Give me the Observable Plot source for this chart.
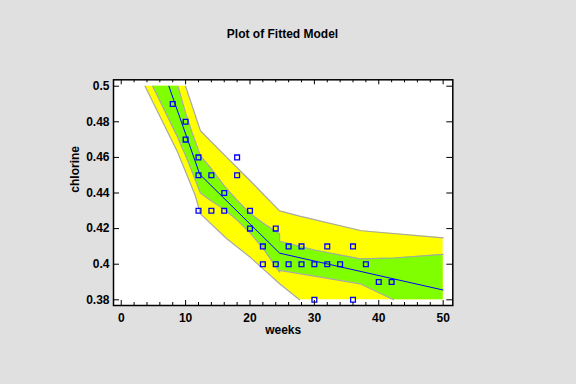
<!DOCTYPE html>
<html><head><meta charset="utf-8">
<script src="https://cdn.jsdelivr.net/npm/d3@7"></script>
<script src="https://cdn.jsdelivr.net/npm/@observablehq/plot@0.6"></script>
<style>
html,body{margin:0;padding:0;background:#e0e0e0;width:576px;height:384px;overflow:hidden;font-family:Arial,"Liberation Sans",sans-serif}
#title{position:absolute;left:113px;width:339px;top:27px;text-align:center;font-weight:bold;font-size:12px;color:#000}
#chart{position:absolute;left:0;top:50px}
</style></head><body>
<div id="title">Plot of Fitted Model</div>
<div id="chart"></div>
<script>
// observations
const weeks    = [8,10,10,12,12,12,14,14,16,16,18,18,20,20,22,22,24,24,26,26,28,28,30,30,32,32,34,36,36,38,40,42];
const chlorine = [.49,.48,.47,.46,.45,.43,.45,.43,.44,.43,.46,.45,.42,.43,.41,.40,.42,.40,.41,.40,.41,.40,.40,.38,.41,.40,.40,.41,.38,.40,.39,.39];
// fitted line
const fitX = [7.4, 12.2, 24.6, 50];
const fitY = [0.5, 0.4505, 0.4062, 0.3855];
// prediction limits (yellow)
const predX  = [3.7, 8.65, 10.0, 11.5, 12.3, 16.4, 20, 22, 24.6, 27.7, 37.3, 50];
const predLo = [0.5, 0.4638, 0.452, 0.4386, 0.4283, 0.4143, 0.404, 0.3975, 0.389, 0.38, 0.38, 0.38];
const predHi = [0.5, 0.5, 0.5, 0.4837, 0.475, 0.460, 0.447, 0.4396, 0.430, 0.427, 0.4188, 0.4148];
// confidence limits (green)
const confX  = [4.9, 8, 8.8, 10, 11, 12.3, 14, 16, 18, 20, 22, 24.6, 24.6, 30, 37.1, 42.3, 50];
const confLo = [0.5, 0.477, 0.471, 0.461, 0.452, 0.440, 0.4355, 0.4309, 0.4248, 0.4177, 0.4091, 0.3955, 0.3965, 0.3933, 0.389, 0.38, 0.38];
const confHi = [0.5, 0.5, 0.5, 0.485, 0.474, 0.461, 0.4535, 0.444, 0.4358, 0.4287, 0.4231, 0.4171, 0.4129, 0.408, 0.403, 0.4035, 0.4055];
// axes
const xMajor = [0,10,20,30,40,50];
const xMinor = [2,4,6,8,12,14,16,18,22,24,26,28,32,34,36,38,42,44,46,48];
const yTicks = [0.38,0.40,0.42,0.44,0.46,0.48,0.50];

const pts = weeks.map((w,i)=>({w, c: chlorine[i]}));
const fit = fitX.map((x,i)=>({x, y: fitY[i]}));
const pred = predX.map((x,i)=>({x, lo: predLo[i], hi: predHi[i]}));
const conf = confX.map((x,i)=>({x, lo: confLo[i], hi: confHi[i]}));
// visible edge of a band (drop the stretches that sit on the 0.5 / 0.38 limits)
const edge = (arr, key) => arr.map(d => ({x: d.x, y: d[key]}))
  .filter((d,i,a) => !((d.y >= 0.5 && a[i+1] && a[i+1].y >= 0.5) || (d.y <= 0.38 && a[i-1] && a[i-1].y <= 0.38)));

const W = 576, H = 334, mT = 29.3, mB = 79, mL = 113, mR = 123.7;
const fh = H - mT - mB, fw = W - mL - mR;
const edgeColor = "#a8a8a8";

const chart = Plot.plot({
  width: W, height: H,
  marginTop: mT, marginBottom: mB, marginLeft: mL, marginRight: mR,
  style: {background: "transparent", fontFamily: "Arial, 'Liberation Sans', sans-serif", fontSize: "12px", fontWeight: "bold", color: "#000"},
  x: {domain: [-1.2, 51.5]},
  y: {domain: [0.3768, 0.5036]},
  marks: [
    Plot.frame({fill: "white"}),
    Plot.areaY(pred, {x: "x", y1: "lo", y2: "hi", fill: "#ffff00"}),
    Plot.areaY(conf, {x: "x", y1: "lo", y2: "hi", fill: "#80ff00"}),
    Plot.line(edge(pred, "hi"), {x: "x", y: "y", stroke: edgeColor, strokeWidth: 1.2}),
    Plot.line(edge(pred, "lo"), {x: "x", y: "y", stroke: edgeColor, strokeWidth: 1.2}),
    Plot.line(edge(conf, "hi"), {x: "x", y: "y", stroke: edgeColor, strokeWidth: 1.2}),
    Plot.line(edge(conf, "lo"), {x: "x", y: "y", stroke: edgeColor, strokeWidth: 1.2}),
    Plot.line(fit, {x: "x", y: "y", stroke: "#0000ff", strokeWidth: 1}),
    Plot.dot(pts, {x: "w", y: "c", symbol: "square", r: 2.7, stroke: "#0000ff", strokeWidth: 1.3, fill: "none"}),
    // ticks (inward)
    Plot.tickX(xMajor, {x: d => d, insetTop: fh - 5, stroke: "#000"}),
    Plot.tickX(xMinor, {x: d => d, insetTop: fh - 3, stroke: "#000"}),
    Plot.tickX(xMajor, {x: d => d, insetBottom: fh - 5, stroke: "#000"}),
    Plot.tickX(xMinor, {x: d => d, insetBottom: fh - 3, stroke: "#000"}),
    Plot.tickY(yTicks, {y: d => d, insetRight: fw - 6, stroke: "#000"}),
    Plot.tickY(yTicks, {y: d => d, insetLeft: fw - 6, stroke: "#000"}),
    Plot.axisX(xMajor, {tickSize: 0, tickPadding: 8, label: null, tickFormat: d => String(d), fontWeight: "bold"}),
    Plot.axisY(yTicks, {tickSize: 0, tickPadding: 4, label: null, tickFormat: d => String(+d.toFixed(2)), fontWeight: "bold"}),
    Plot.text(["weeks"], {frameAnchor: "bottom", dy: 28, fontWeight: "bold", fontSize: 12}),
    Plot.text(["chlorine"], {frameAnchor: "left", dx: -38, rotate: -90, fontWeight: "bold", fontSize: 12}),
    Plot.frame({stroke: "#000", strokeWidth: 1.5})
  ]
});
document.getElementById("chart").appendChild(chart);
</script>
</body></html>
